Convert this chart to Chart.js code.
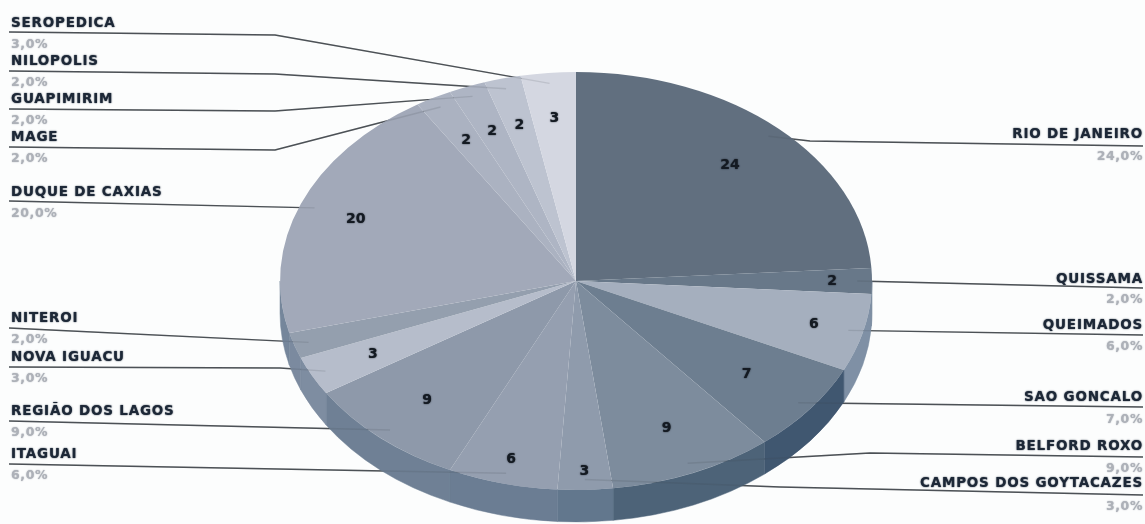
<!DOCTYPE html>
<html>
<head>
<meta charset="utf-8">
<style>
  html, body { margin: 0; padding: 0; background: #fcfdfd; }
  canvas { display: block; }
</style>
<script src="https://cdn.jsdelivr.net/npm/chart.js@4/dist/chart.umd.min.js"></script>
</head>
<body>
<canvas id="pie3d" width="1145" height="524"></canvas>
<script>
// Data
const categories = ["RIO DE JANEIRO", "QUISSAMA", "QUEIMADOS", "SAO GONCALO", "BELFORD ROXO", "CAMPOS DOS GOYTACAZES", "ITAGUAI", "REGIÃO DOS LAGOS", "NOVA IGUACU", "NITEROI", "DUQUE DE CAXIAS", "MAGE", "GUAPIMIRIM", "NILOPOLIS", "SEROPEDICA"];
const values = [24, 2, 6, 7, 9, 3, 6, 9, 3, 2, 20, 2, 2, 2, 3];

// Colours, same order as the categories
const topColors = ["#616f7f", "#687889", "#a5afbe", "#6d7e90", "#7d8c9d", "#8f9bac", "#959fb0", "#8e99aa", "#b6bdcb", "#949fae", "#a2a9b9", "#abb2c1", "#aeb5c4", "#bdc3d0", "#d4d7e1"];
const sideColors = ["#51647a", "#66788e", "#7f90a5", "#405770", "#4d6378", "#62778d", "#6b7d93", "#6f8095", "#7e8da1", "#7b8a9f", "#75869b", "#75869b", "#75869b", "#75869b", "#75869b"];

// Callout layout: centre y of the name and the percentage, y of the rule at the page edge
const nameY = [133, 278, 324, 396, 445, 482, 453, 410, 356, 317, 191, 136, 98, 60, 22];
const pctY = [155, 298, 345, 418, 467, 505, 474, 431, 377, 338, 212, 157, 119, 81, 43];
const ruleY = [146, 288, 335, 407, 457, 495, 464, 421, 367, 328, 201, 147, 109, 71, 32];
// Elbow of the leader (null = straight)
const elbowX = [810, null, null, null, 870, 780, null, null, 280, null, null, 275, 275, 275, 275];
const elbowY = [141, null, null, null, 453, 487, null, null, 368, null, null, 150, 111, 74, 35];
// Distance of the number from the centre, as part of the radius (null = no number)
const numberDist = [0.76, 0.865, 0.83, 0.73, 0.77, 0.91, 0.88, 0.76, 0.77, null, 0.8, 0.77, 0.77, 0.77, 0.78];

const RX = 296;      // pie radius in x
const RY = 209;      // pie radius in y
const DEPTH = 32;    // height of the wall
const LEADER_DIST = 0.95;

function midPoint(arc, dist) {
  const a = (arc.startAngle + arc.endAngle) / 2;
  return { x: arc.x + Math.cos(a) * RX * dist, y: arc.y + Math.sin(a) * RY * dist, cos: Math.cos(a) };
}

function drawLeaders(chart, alpha) {
  const ctx = chart.ctx;
  ctx.save();
  ctx.strokeStyle = "rgba(60,65,70," + alpha + ")";
  ctx.lineWidth = 1.4;
  chart.getDatasetMeta(0).data.forEach(function (arc, i) {
    const p = midPoint(arc, LEADER_DIST);
    ctx.beginPath();
    ctx.moveTo(p.cos > 0 ? 1143 : 9, ruleY[i]);
    if (elbowX[i] !== null) ctx.lineTo(elbowX[i], elbowY[i]);
    ctx.lineTo(p.x, p.y);
    ctx.stroke();
  });
  ctx.restore();
}

// Squashes the pie into an ellipse and puts a wall under it
const pie3d = {
  id: "pie3d",
  beforeDatasetsDraw(chart) {
    const ctx = chart.ctx;
    drawLeaders(chart, 0.9);
    chart.getDatasetMeta(0).data.forEach(function (arc, i) {
      const from = Math.max(arc.startAngle, 0);
      const to = Math.min(arc.endAngle, Math.PI);
      if (to <= from) return;
      ctx.beginPath();
      ctx.ellipse(arc.x, arc.y, RX, RY, 0, from, to);
      ctx.ellipse(arc.x, arc.y + DEPTH, RX, RY, 0, to, from, true);
      ctx.closePath();
      ctx.fillStyle = sideColors[i];
      ctx.strokeStyle = sideColors[i];
      ctx.lineWidth = 0.5;
      ctx.fill();
      ctx.stroke();
    });
    const c = chart.getDatasetMeta(0).data[0];
    ctx.save();
    ctx.translate(0, c.y);
    ctx.scale(1, RY / RX);
    ctx.translate(0, -c.y);
  },
  afterDatasetsDraw(chart) {
    const ctx = chart.ctx;
    ctx.restore();
    drawLeaders(chart, 0.14);

    ctx.save();
    ctx.shadowBlur = 1.5;
    chart.getDatasetMeta(0).data.forEach(function (arc, i) {
      const right = midPoint(arc, 1).cos > 0;
      const x = right ? 1143 : 11;
      ctx.textAlign = right ? "right" : "left";
      ctx.letterSpacing = "0.8px";
      ctx.font = "bold 13.5px 'DejaVu Sans'";
      ctx.fillStyle = "#1d2837";
      ctx.shadowColor = "#1d2837";
      ctx.fillText(categories[i], x, nameY[i] + 4.9);
      ctx.letterSpacing = "0.6px";
      ctx.font = "bold 12.5px 'DejaVu Sans'";
      ctx.fillStyle = "#adb1b8";
      ctx.shadowColor = "#adb1b8";
      ctx.fillText(values[i].toFixed(1).replace(".", ",") + "%", x, pctY[i] + 4.5);

      if (numberDist[i] !== null) {
        const p = midPoint(arc, numberDist[i]);
        ctx.textAlign = "center";
        ctx.textBaseline = "middle";
        ctx.letterSpacing = "0px";
        ctx.font = "bold 14px 'DejaVu Sans'";
        ctx.fillStyle = "#141a22";
        ctx.shadowColor = "#141a22";
        ctx.fillText(String(values[i]), p.x, p.y);
        ctx.textBaseline = "alphabetic";
      }
    });
    ctx.restore();
  },
};

new Chart(document.getElementById("pie3d").getContext("2d"), {
  type: "pie",
  data: {
    labels: categories,
    datasets: [
      {
        data: values,
        backgroundColor: topColors,
        borderWidth: 0,
        radius: RX,
        clip: false,
      },
    ],
  },
  options: {
    responsive: false,
    animation: false,
    layout: { padding: { left: 7, top: 38, right: 0, bottom: 0 } },
    plugins: { legend: { display: false }, tooltip: { enabled: false } },
  },
  plugins: [pie3d],
});
</script>
</body>
</html>
